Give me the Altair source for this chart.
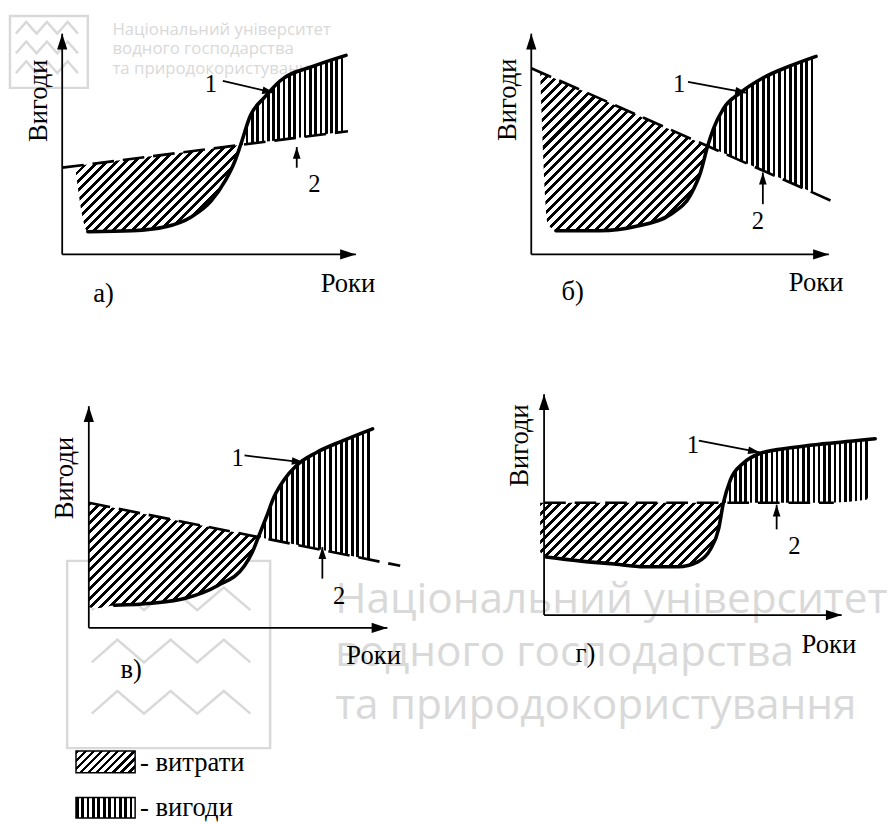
import math
import altair as alt
import pandas as pd

U = 10.0          # screen pixels per data unit (both axes, every panel)
INK = "#000000"
WM = "#d9d9d9"
SERIF = "Liberation Serif"
SANS = "Open Sans"

# ---------------- data: units from the corner of each panel's axes ----------------
# panel а)
A_CURVE_X = [2.6, 7.1, 10.5, 13.1, 15.1, 16.5, 17.5, 18.1, 19.1, 20.5, 22.1, 25.5, 28.8]
A_CURVE_Y = [2.3, 2.4, 2.8, 3.8, 5.4, 7.4, 9.4, 11.1, 14.1, 15.9, 17.6, 19.1, 20.2]
A_LINE_X = [0.0, 29.0]
A_LINE_Y = [8.8, 12.5]
A_COST_X = [1.3, 2.6, 7.1, 10.5, 13.1, 15.1, 16.5, 17.5, 18.1]
A_COST_TOP = [8.97, 9.13, 9.71, 10.14, 10.47, 10.73, 10.91, 11.03, 11.1]
A_COST_BOT = [8.97, 2.3, 2.4, 2.8, 3.8, 5.4, 7.4, 9.4, 11.1]
A_BEN_X = [18.1, 19.1, 20.5, 22.1, 25.5, 28.8]
A_BEN_TOP = [11.1, 14.1, 15.9, 17.6, 19.1, 20.2]
A_BEN_BOT = [11.1, 11.24, 11.42, 11.62, 12.05, 12.47]

# panel б)
B_CURVE_X = [2.5, 6.9, 10.9, 14.2, 16.2, 17.2, 17.9, 18.5, 19.5, 21.2, 23.5, 26.2, 28.9]
B_CURVE_Y = [2.4, 2.4, 2.9, 4.1, 6.1, 8.4, 11.0, 12.8, 14.8, 16.4, 17.9, 19.1, 20.1]
B_LINE_X = [0.0, 31.0]
B_LINE_Y = [18.9, 5.2]
B_COST_X = [0.9, 1.7, 2.5, 6.9, 10.9, 14.2, 16.2, 17.2, 17.9]
B_COST_TOP = [18.5, 18.15, 17.8, 15.85, 14.08, 12.62, 11.74, 11.3, 11.0]
B_COST_BOT = [18.5, 3.1, 2.4, 2.4, 2.9, 4.1, 6.1, 8.4, 11.0]
B_BEN_X = [17.9, 18.5, 19.5, 21.2, 23.5, 26.2, 28.9]
B_BEN_TOP = [11.0, 12.8, 14.8, 16.4, 17.9, 19.1, 20.1]
B_BEN_BOT = [11.0, 10.72, 10.28, 9.53, 8.51, 7.32, 6.13]

# panel в)
C_CURVE_X = [2.6, 6.4, 9.8, 13.1, 15.8, 16.6, 17.2, 18.0, 18.8, 19.8, 21.1, 23.1, 25.8, 28.8]
C_CURVE_Y = [2.3, 2.5, 3.0, 4.3, 6.3, 7.7, 9.2, 11.2, 13.3, 15.0, 16.5, 17.8, 19.0, 20.2]
C_LINE_X = [0.0, 31.6]
C_LINE_Y = [12.7, 6.3]
C_COST_X = [0.0, 0.8, 2.6, 6.4, 9.8, 13.1, 15.8, 16.6, 17.2]
C_COST_TOP = [12.7, 12.54, 12.17, 11.4, 10.72, 10.05, 9.5, 9.34, 9.22]
C_COST_BOT = [2.1, 2.0, 2.3, 2.5, 3.0, 4.3, 6.3, 7.7, 9.22]
C_BEN_X = [17.2, 18.0, 18.8, 19.8, 21.1, 23.1, 25.8, 28.8]
C_BEN_TOP = [9.22, 11.2, 13.3, 15.0, 16.5, 17.8, 19.0, 20.2]
C_BEN_BOT = [9.22, 9.05, 8.89, 8.69, 8.43, 8.02, 7.48, 6.87]

# panel г)
D_CURVE_X = [0.2, 3.6, 6.9, 10.2, 13.6, 15.6, 16.9, 17.7, 18.2, 18.9, 20.2, 21.9, 25.2, 28.6, 33.6]
D_CURVE_Y = [5.9, 5.5, 5.2, 4.9, 4.9, 5.4, 6.7, 8.7, 11.4, 13.7, 15.4, 16.4, 17.0, 17.4, 17.9]
D_LINE_X = [0.0, 29.4]
D_LINE_Y = [11.4, 11.4]
D_COST_X = [-0.4, 0.2, 3.6, 6.9, 10.2, 13.6, 15.6, 16.9, 17.7, 18.2]
D_COST_TOP = [11.4, 11.4, 11.4, 11.4, 11.4, 11.4, 11.4, 11.4, 11.4, 11.4]
D_COST_BOT = [6.4, 5.9, 5.5, 5.2, 4.9, 4.9, 5.4, 6.7, 8.7, 11.4]
D_BEN_X = [18.2, 18.9, 20.2, 21.9, 25.2, 28.6, 32.7, 33.1]
D_BEN_TOP = [11.4, 13.7, 15.4, 16.4, 17.0, 17.4, 17.8, 17.85]
D_BEN_BOT = [11.4, 11.4, 11.4, 11.4, 11.4, 11.4, 11.7, 12.7]

# texts of every panel: y-axis title, x-axis title, panel letter, curve numbers
TXT = ["Вигоди", "Роки", None, "1", "2"]
PANEL_LETTERS = {"a": "а)", "b": "б)", "c": "в)", "d": "г)"}
A_TXT_X = [-2.35, 29.0, 4.2, 15.1, 25.6]
A_TXT_Y = [15.6, -3.0, -4.0, 17.3, 7.1]
B_TXT_X = [-2.4, 28.9, 4.2, 15.0, 23.0]
B_TXT_Y = [15.7, -2.9, -3.8, 17.3, 3.4]
C_TXT_X = [-2.4, 28.9, 4.3, 15.1, 25.4]
C_TXT_Y = [15.2, -2.9, -4.3, 17.2, 3.2]
D_TXT_X = [-2.4, 28.9, 4.2, 15.1, 25.4]
D_TXT_Y = [17.2, -3.0, -4.0, 17.2, 7.0]

# pointer arrows: [to curve 1, to line 2] as (x0, y0, x1, y1), head at (x1, y1)
A_ARROWS = [(16.3, 17.6, 21.5, 16.4), (23.8, 8.8, 23.8, 10.9)]
B_ARROWS = [(15.9, 17.5, 21.9, 16.4), (23.5, 5.1, 23.5, 8.3)]
C_ARROWS = [(15.8, 17.5, 21.8, 16.8), (23.7, 5.0, 23.7, 8.2)]
D_ARROWS = [(15.7, 17.7, 21.9, 16.5), (23.6, 8.7, 23.6, 11.2)]

# axis lengths (x tip, y tip)
A_TIP = (29.8, 22.4)
B_TIP = (30.2, 22.4)
C_TIP = (30.3, 22.5)
D_TIP = (30.2, 22.4)

LEG_CATS = ["витрати", "вигоди"]

WM_TEXT = ["Національний університет", "водного господарства", "та природокористування"]

# ---------------- layout (page pixels) ----------------
LAYOUT = {
    "a": dict(origin=(62, 251), rect=(8, 8, 470, 330)),
    "b": dict(origin=(538, 251), rect=(470, 8, 888, 330)),
    "c": dict(origin=(89, 630), rect=(8, 330, 470, 730)),
    "d": dict(origin=(551, 617), rect=(470, 330, 888, 730)),
}
# legend (page pixels): box x-range, box y-ranges, text x, text y
LEG_BOX_PX = (76, 136)
LEG_BOX_PY = [(755, 777), (802, 823)]
LEG_TEXT_PX = 141
LEG_TEXT_PY = [767, 813]

FS_TITLE = 27
FS_DIGIT = 25
HEAD = "M0,0L-2,-0.65L-2,0.65Z"


def diag_fill(W, H, period=6.8, duty=0.42):
    s = (W * W + H * H) / (W + H)
    n = max(1, round((W + H) / (math.sqrt(2) * period)))
    stops = []
    for i in range(n):
        a, m, e = i / n, (i + duty) / n, (i + 1) / n
        stops += [{"offset": a, "color": INK}, {"offset": m, "color": INK},
                  {"offset": m, "color": "#ffffff"}, {"offset": e, "color": "#ffffff"}]
    return {"gradient": "linear", "x1": 0, "y1": 0, "x2": W / s, "y2": H / s, "stops": stops}


def vert_fill(W, period=5.4, duty=0.5):
    n = max(1, round(W / period))
    stops = []
    for i in range(n):
        a, m, e = i / n, (i + duty) / n, (i + 1) / n
        stops += [{"offset": a, "color": INK}, {"offset": m, "color": INK},
                  {"offset": m, "color": "#ffffff"}, {"offset": e, "color": "#ffffff"}]
    return {"gradient": "linear", "x1": 0, "y1": 0, "x2": 1, "y2": 0, "stops": stops}


def bbox(xs, ys1, ys2):
    W = (max(xs) - min(xs)) * U
    H = (max(ys1 + ys2) - min(ys1 + ys2)) * U
    return W, H


def scales(origin, rect):
    ox, oy = origin
    l, t, r, b = rect
    xs = alt.Scale(domain=[(l - ox) / U, (r - ox) / U], nice=False, zero=False)
    ys = alt.Scale(domain=[(oy - b) / U, (oy - t) / U], nice=False, zero=False)
    return xs, ys


def watermark_layers(X, Y, tx, ty_list, fsize, box, zig_x, zig_rows):
    layers = []
    bdf = pd.DataFrame({"x0": [box[0]], "x1": [box[1]], "y0": [box[2]], "y1": [box[3]]})
    layers.append(alt.Chart(bdf).mark_rect(fillOpacity=0, stroke=WM, strokeWidth=2.5).encode(
        x=X("x0"), x2=alt.X2("x1"), y=Y("y0"), y2=alt.Y2("y1")))
    rows = []
    for k, (lo, hi) in enumerate(zig_rows):
        for j, xv in enumerate(zig_x):
            rows.append({"row": k, "i": j, "x": xv, "y": hi if j % 2 else lo})
    zdf = pd.DataFrame(rows)
    layers.append(alt.Chart(zdf).mark_line(color=WM, strokeWidth=2.5).encode(
        x=X("x"), y=Y("y"), detail="row:N", order="i:Q"))
    tdf = pd.DataFrame({"t": WM_TEXT, "x": [tx] * 3, "y": ty_list})
    layers.append(alt.Chart(tdf).mark_text(font=SANS, fontSize=fsize, color=WM, align="left",
                                           baseline="alphabetic").encode(
        x=X("x"), y=Y("y"), text="t:N"))
    return layers


def legend_layers(X, Y, origin):
    ox, oy = origin
    ux = lambda px: (px - ox) / U
    uy = lambda py: (oy - py) / U
    df = pd.DataFrame({
        "cat": LEG_CATS,
        "label": ["- " + c for c in LEG_CATS],
        "x0": [ux(LEG_BOX_PX[0])] * 2, "x1": [ux(LEG_BOX_PX[1])] * 2,
        "y0": [uy(v[1]) for v in LEG_BOX_PY], "y1": [uy(v[0]) for v in LEG_BOX_PY],
        "tx": [ux(LEG_TEXT_PX)] * 2, "ty": [uy(v) for v in LEG_TEXT_PY],
    })
    bw = LEG_BOX_PX[1] - LEG_BOX_PX[0]
    bh = LEG_BOX_PY[0][1] - LEG_BOX_PY[0][0]
    base = alt.Chart(df)
    cost = base.transform_filter(alt.datum.cat == LEG_CATS[0]).mark_rect(
        fill=diag_fill(bw, bh, period=6.0), stroke=INK, strokeWidth=1.5).encode(
        x=X("x0"), x2=alt.X2("x1"), y=Y("y0"), y2=alt.Y2("y1"))
    ben = base.transform_filter(alt.datum.cat == LEG_CATS[1]).mark_rect(
        fill=vert_fill(bw, period=5.4), stroke=INK, strokeWidth=1.5).encode(
        x=X("x0"), x2=alt.X2("x1"), y=Y("y0"), y2=alt.Y2("y1"))
    txt = base.mark_text(font=SERIF, fontSize=FS_TITLE, color=INK, align="left",
                         baseline="middle").encode(x=X("tx"), y=Y("ty"), text="label:N")
    return [cost, ben, txt]


def panel_chart(key, curve, line, cost, ben, tx, ty, arrows, tip, background=None, foreground=None):
    lay = LAYOUT[key]
    xs, ys = scales(lay["origin"], lay["rect"])
    l, t, r, b = lay["rect"]

    def X(f):
        return alt.X(f + ":Q", scale=xs, axis=None)

    def Y(f):
        return alt.Y(f + ":Q", scale=ys, axis=None)

    layers = []
    if background is not None:
        layers += background(X, Y)

    cdf = pd.DataFrame({"x": cost[0], "top": cost[1], "bot": cost[2]})
    W, H = bbox(cost[0], cost[1], cost[2])
    layers.append(alt.Chart(cdf).mark_area(fill=diag_fill(W, H), interpolate="monotone",
                                           opacity=1, strokeWidth=0).encode(
        x=X("x"), y=Y("top"), y2=alt.Y2("bot")))

    bdf = pd.DataFrame({"x": ben[0], "top": ben[1], "bot": ben[2]})
    W, H = bbox(ben[0], ben[1], ben[2])
    layers.append(alt.Chart(bdf).mark_area(fill=vert_fill(W), interpolate="monotone",
                                           opacity=1, strokeWidth=0).encode(
        x=X("x"), y=Y("top"), y2=alt.Y2("bot")))

    ldf = pd.DataFrame({"x": line[0], "y": line[1]})
    layers.append(alt.Chart(ldf).mark_line(color=INK, strokeWidth=2.7, strokeDash=[22, 9]).encode(
        x=X("x"), y=Y("y")))

    kdf = pd.DataFrame({"x": curve[0], "y": curve[1]})
    layers.append(alt.Chart(kdf).mark_line(color=INK, strokeWidth=3.6, interpolate="monotone",
                                           strokeCap="round").encode(x=X("x"), y=Y("y")))

    segs = [(0, 0, tip[0], 0), (0, 0, 0, tip[1])] + list(arrows)
    sdf = pd.DataFrame(segs, columns=["x0", "y0", "x1", "y1"])
    layers.append(alt.Chart(sdf).mark_rule(color=INK, strokeWidth=1.8).encode(
        x=X("x0"), y=Y("y0"), x2=alt.X2("x1"), y2=alt.Y2("y1")))

    heads = [(tip[0], 0, 0.0, 256), (0, tip[1], 270.0, 256)]
    for (x0, y0, x1, y1) in arrows:
        ang = math.degrees(math.atan2(-(y1 - y0), (x1 - x0))) % 360
        heads.append((x1, y1, ang, 144))
    hdf = pd.DataFrame(heads, columns=["x", "y", "ang", "sz"])
    layers.append(alt.Chart(hdf).mark_point(shape=HEAD, filled=True, color=INK, opacity=1,
                                            strokeWidth=0).encode(
        x=X("x"), y=Y("y"), angle=alt.Angle("ang:Q", scale=None), size=alt.Size("sz:Q", scale=None)))

    texts = list(TXT)
    texts[2] = PANEL_LETTERS[key]
    tdf = pd.DataFrame({"t": texts, "x": tx, "y": ty,
                        "ang": [270, 0, 0, 0, 0],
                        "fs": [FS_TITLE, FS_TITLE, FS_TITLE, FS_DIGIT, FS_DIGIT]})
    layers.append(alt.Chart(tdf).mark_text(font=SERIF, color=INK, align="center",
                                           baseline="middle").encode(
        x=X("x"), y=Y("y"), text="t:N", angle=alt.Angle("ang:Q", scale=None),
        size=alt.Size("fs:Q", scale=None)))

    if foreground is not None:
        layers += foreground(X, Y, lay["origin"])

    return alt.layer(*layers).properties(width=r - l, height=b - t)


def small_mark(X, Y):
    return watermark_layers(X, Y, 5.1, [22.3, 20.3, 18.3], 17,
                            (-5.3, 2.6, 16.9, 24.2),
                            [-4.7, -3.65, -2.6, -1.55, -0.5, 0.55, 1.6],
                            [(22.4, 23.6), (20.4, 21.6), (18.4, 19.6)])


def big_mark(X, Y):
    return watermark_layers(X, Y, 25.0, [1.5, -3.9, -9.2], 43,
                            (-2.2, 18.4, -12.2, 6.8),
                            [0.3, 2.9, 5.6, 8.3, 11.0, 13.7, 16.4],
                            [(1.8, 4.1), (-3.5, -1.2), (-8.7, -6.4)])


pa = panel_chart("a", (A_CURVE_X, A_CURVE_Y), (A_LINE_X, A_LINE_Y),
                 (A_COST_X, A_COST_TOP, A_COST_BOT), (A_BEN_X, A_BEN_TOP, A_BEN_BOT),
                 A_TXT_X, A_TXT_Y, A_ARROWS, A_TIP, background=small_mark)
pb = panel_chart("b", (B_CURVE_X, B_CURVE_Y), (B_LINE_X, B_LINE_Y),
                 (B_COST_X, B_COST_TOP, B_COST_BOT), (B_BEN_X, B_BEN_TOP, B_BEN_BOT),
                 B_TXT_X, B_TXT_Y, B_ARROWS, B_TIP)
pc = panel_chart("c", (C_CURVE_X, C_CURVE_Y), (C_LINE_X, C_LINE_Y),
                 (C_COST_X, C_COST_TOP, C_COST_BOT), (C_BEN_X, C_BEN_TOP, C_BEN_BOT),
                 C_TXT_X, C_TXT_Y, C_ARROWS, C_TIP, background=big_mark, foreground=legend_layers)
pd_ = panel_chart("d", (D_CURVE_X, D_CURVE_Y), (D_LINE_X, D_LINE_Y),
                  (D_COST_X, D_COST_TOP, D_COST_BOT), (D_BEN_X, D_BEN_TOP, D_BEN_BOT),
                  D_TXT_X, D_TXT_Y, D_ARROWS, D_TIP)

chart = alt.concat(pa, pb, pc, pd_, columns=2, spacing=0, bounds="flush").properties(
    padding=0, background="#ffffff"
).configure_view(strokeWidth=0)

chart.save("out.html", embed_options={"renderer": "svg", "actions": False})
